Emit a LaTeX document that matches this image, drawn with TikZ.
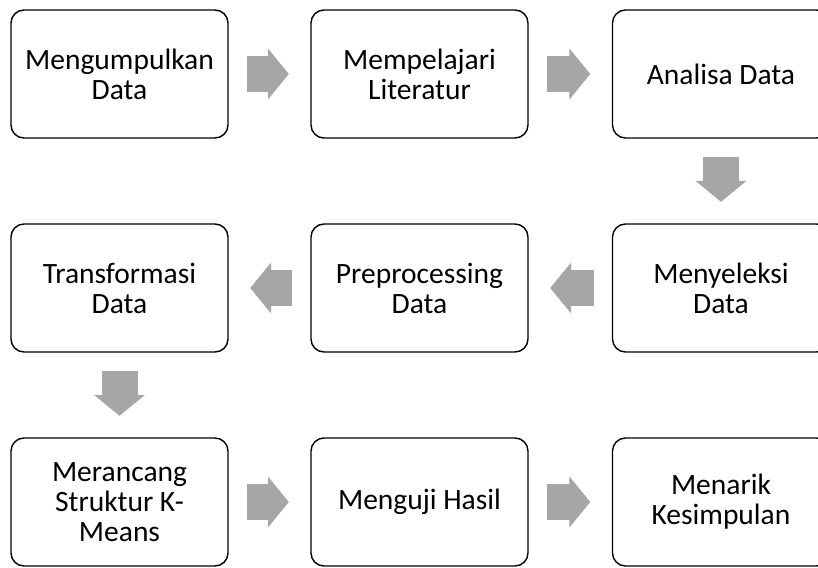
\documentclass[tikz,border=0pt]{standalone}
\usepackage{fontspec}
\setmainfont{Carlito}
\usetikzlibrary{arrows.meta}
\definecolor{arrowgray}{HTML}{A6A6A6}
\begin{document}
\begin{tikzpicture}[x=1pt,y=-1pt,
    stepbox/.style={draw=black,line width=1.4pt,rounded corners=13pt,
        minimum width=217pt,minimum height=128pt,align=center,
        font=\fontsize{29.5}{30}\selectfont},
    blockarrow/.style={draw=arrowgray,line width=36pt,line cap=butt,
        -{Triangle[length=21pt,width=51pt,line width=1pt,fill=arrowgray]},
        shorten <=18pt,shorten >=21.5pt}]
            \useasboundingbox (0,0) rectangle (818,567);

            \node[stepbox] (kumpul) at (119.5,74) {Mengumpulkan\\Data};
            \node[stepbox] (literatur) at (419.5,74) {Mempelajari\\Literatur};
            \node[stepbox] (analisa) at (721,74) {Analisa Data};

            \node[stepbox] (seleksi) at (721,288) {Menyeleksi\\Data};
            \node[stepbox] (prepro) at (419.5,288) {Preprocessing\\Data};
            \node[stepbox] (transform) at (119.5,288) {Transformasi\\Data};

            \node[stepbox] (kmeans) at (119.5,502) {Merancang\\Struktur K-\\Means};
            \node[stepbox] (uji) at (419.5,502) {Menguji Hasil};
            \node[stepbox] (simpul) at (721,502) {Menarik\\Kesimpulan};

            \draw[blockarrow] (kumpul.east) -- (literatur.west);
            \draw[blockarrow] (literatur.east) -- (analisa.west);
            \draw[blockarrow] (analisa.south) -- (seleksi.north);
            \draw[blockarrow] (seleksi.west) -- (prepro.east);
            \draw[blockarrow] (prepro.west) -- (transform.east);
            \draw[blockarrow] (transform.south) -- (kmeans.north);
            \draw[blockarrow] (kmeans.east) -- (uji.west);
            \draw[blockarrow] (uji.east) -- (simpul.west);

        \end{tikzpicture}
\end{document}
